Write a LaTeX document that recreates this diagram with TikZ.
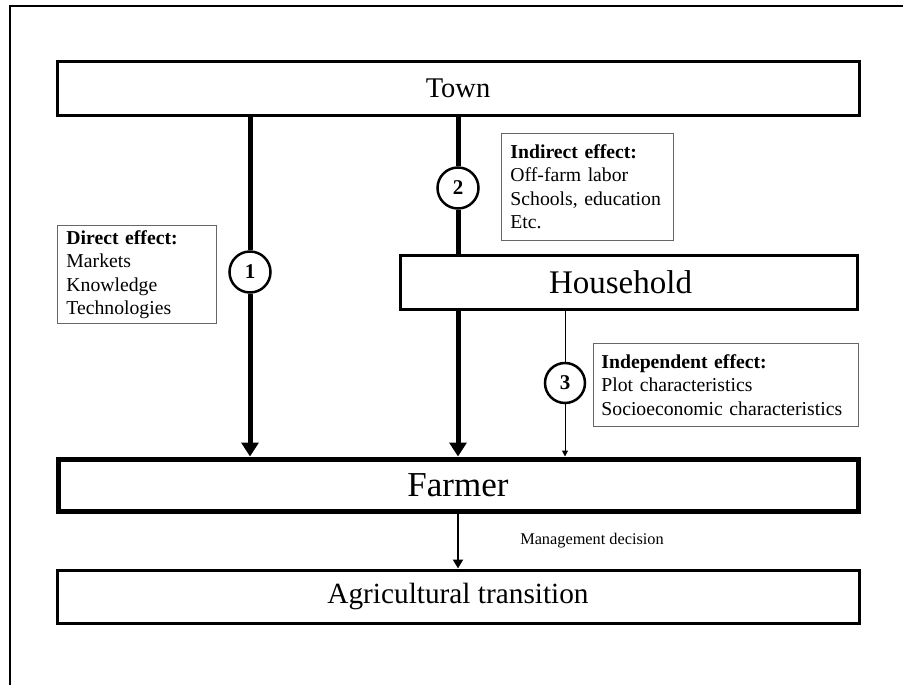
\documentclass[tikz,border=0pt]{standalone}
\usepackage{fontspec}
\setmainfont{Liberation Serif}
\usetikzlibrary{arrows.meta}
\begin{document}
\begin{tikzpicture}[x=1pt,y=-1pt,
  bigbox/.style={draw, line width=3pt, inner sep=0pt, minimum height=53pt},
  notebox/.style={draw=black!60, line width=0.9pt, anchor=north west, inner xsep=9pt, inner ysep=0pt, align=left, font=\fontsize{19.7}{23.5}\selectfont},
  numcirc/.style={draw, circle, line width=2.5pt, fill=white, minimum size=41pt, inner sep=0pt, font=\fontsize{21}{22}\selectfont\bfseries},
  thickline/.style={line width=5pt},
  thickarrow/.style={line width=5pt, -{Triangle[width=17pt,length=14pt]}},
  thinarrow/.style={line width=1pt, -{Triangle[width=6pt,length=6pt]}}
]
\useasboundingbox (0,0) rectangle (908,685);
% outer frame (left and top edges)
\coordinate (fbl) at (10,686);
\coordinate (ftl) at (10,6);
\coordinate (ftr) at (903,6);
\draw[line width=2pt] (fbl) -- (ftl) -- (ftr);

\node[bigbox, minimum width=802pt, font=\fontsize{28.5}{30}\selectfont] (town) at (458,88.5) {Town};
\node[bigbox, minimum width=457pt, minimum height=54pt, font=\fontsize{33}{35}\selectfont] (household) at (628.5,282) {\hspace*{-16pt}Household};
\node[bigbox, line width=5pt, minimum width=800pt, minimum height=52pt, font=\fontsize{35}{37}\selectfont] (farmer) at (458,485) {Farmer};
\node[bigbox, minimum width=802pt, font=\fontsize{29.3}{31}\selectfont] (agri) at (458,596.5) {Agricultural transition};

\node[numcirc] (c1) at (250,272) {1};
\node[numcirc] (c2) at (458,188) {2};
\node[numcirc, minimum size=40pt] (c3) at (565,383) {3};

\draw[thickline] (town.south -| c1) -- (c1.north);
\draw[thickarrow] (c1.south) -- (farmer.north -| c1);
\draw[thickline] (town.south -| c2) -- (c2.north);
\draw[thickline] (c2.south) -- (household.north -| c2);
\draw[thickarrow] (household.south -| c2) -- (farmer.north -| c2);
\draw[line width=1pt] (household.south -| c3) -- (c3.north);
\draw[thinarrow] (c3.south) -- (farmer.north -| c3);
\draw[line width=2pt, -{Triangle[width=10pt,length=9pt]}] (farmer.south) -- (agri.north);

\node[font=\fontsize{16.3}{18}\selectfont] (mgmt) at (592,541) {Management decision};

\node[notebox, text width=141pt, minimum height=98pt] (direct) at (57,225)
  {\textbf{Direct effect:}\\Markets\\Knowledge\\Technologies};
\node[notebox, text width=154pt, minimum height=107pt] (indirect) at (501,133)
  {\textbf{Indirect effect:}\\Off-farm labor\\Schools, education\\Etc.};
\node[notebox, inner xsep=8pt, text width=249pt, minimum height=83pt] (indep) at (593,343)
  {\textbf{Independent effect:}\\Plot characteristics\\Socioeconomic characteristics};
\end{tikzpicture}
\end{document}
